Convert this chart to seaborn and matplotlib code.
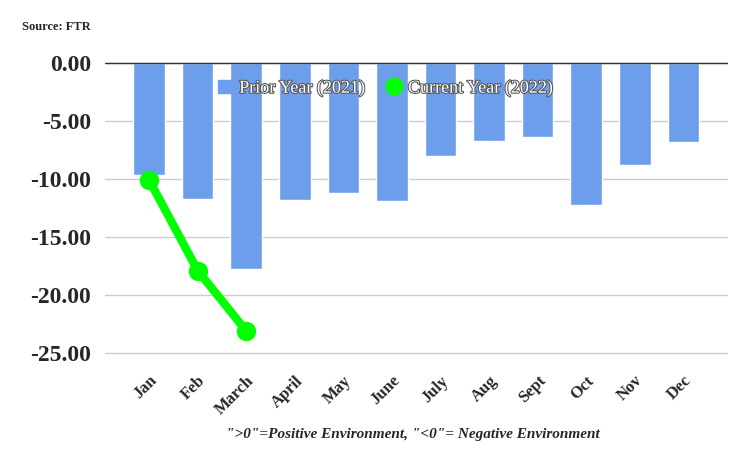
import pandas as pd
import numpy as np
import matplotlib.pyplot as plt
import matplotlib.patheffects as pe
from matplotlib.lines import Line2D
from matplotlib.patches import Patch
import seaborn as sns
import warnings
warnings.filterwarnings('ignore')
sns.set(style = "whitegrid")
plt.rcParams['font.family'] = ['Liberation Serif', 'DejaVu Serif']

months = ["Jan","Feb","March","April","May","June","July","Aug","Sept","Oct","Nov","Dec"]
prior_year = [-9.7,-11.75,-17.75,-11.8,-11.2,-11.9,-8.05,-6.75,-6.4,-12.3,-8.85,-6.8]
current_months = ["Jan","Feb","March"]
current_year = [-10.1,-17.9,-23.1]

df = pd.DataFrame({"month":months,"prior":prior_year})
cur = pd.DataFrame({"month":current_months,"current":current_year})

fig, ax = plt.subplots(figsize=(7.5,4.63), dpi=100)
sns.barplot(data=df, x="month", y="prior", color="#6d9eeb", saturation=1, width=0.65, ax=ax)
sns.lineplot(x=[0,1,2], y=cur["current"], color="#00ff00", linewidth=6, marker="o", markersize=14, markeredgewidth=0, ax=ax)

ax.set_ylim(-25.5, 0.2)
ax.set_yticks(np.arange(-25, 1, 5))
ax.set_yticklabels([f"{v:.2f}" for v in np.arange(-25, 1, 5)], fontsize=17, fontweight="bold")
ax.set_xticklabels(months, rotation=45, ha="right", rotation_mode="anchor", fontsize=12, fontweight="bold")
ax.axhline(0, color="#333333", linewidth=1)
ax.grid(axis="x", visible=False)
ax.grid(axis="y", color="#cccccc")
for s in ax.spines.values():
    s.set_visible(False)
ax.set_xlabel("")
ax.set_ylabel("")
ax.tick_params(axis="both", length=0, pad=10)

handles = [Patch(color="#6d9eeb"), Line2D([], [], color="#00ff00", marker="o", markersize=12, linestyle="none")]
leg = ax.legend(handles, ["Prior Year (2021)", "Current Year (2022)"], loc="upper center", bbox_to_anchor=(0.45, 0.99), ncol=2, frameon=False, fontsize=13, handlelength=0.8, handletextpad=0.4, columnspacing=1.2)
for t in leg.get_texts():
    t.set_color("white")
    t.set_path_effects([pe.withStroke(linewidth=1.5, foreground="#555555")])

fig.text(0.03, 0.935, "Source: FTR", fontsize=9, fontweight="bold")
fig.text(0.55, 0.055, "\">0\"=Positive Environment, \"<0\"= Negative Environment", fontsize=11, fontweight="bold", style="italic", ha="center")
plt.subplots_adjust(left=0.14, right=0.97, top=0.87, bottom=0.225)

plt.savefig("out.png")
